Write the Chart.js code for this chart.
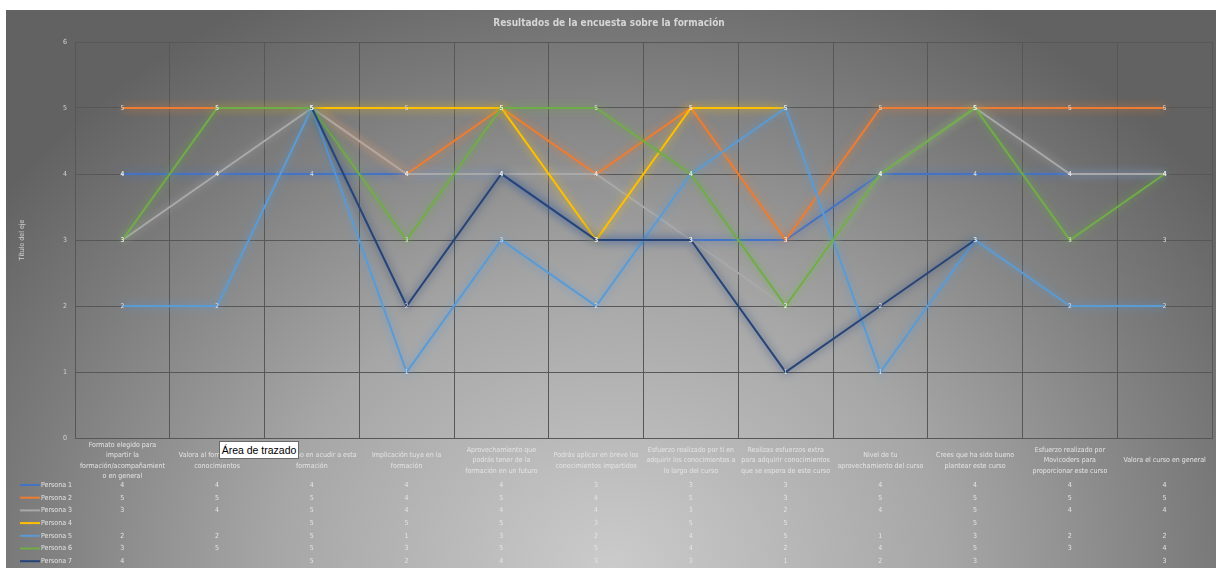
<!DOCTYPE html>
<html lang="es">
<head>
<meta charset="utf-8">
<title>Resultados de la encuesta sobre la formación</title>
<script src="https://cdn.jsdelivr.net/npm/chart.js@4.4.1/dist/chart.umd.min.js"></script>
<style>
    html, body { margin: 0; padding: 0; background: #fff; }
    body { width: 1218px; height: 568px; position: relative; overflow: hidden; }
    #frame {
        position: absolute; left: 6px; top: 10px; width: 1210px; height: 558px;
        background: radial-gradient(ellipse 62% 115% at 50% 100%, #cbcbcb 0%, #a6a6a6 45%, #7a7a7a 80%, #626262 100%);
    }
    #chart { display: block; }
    #tip {
        position: absolute; left: 219px; top: 441px; width: 80px; height: 18px;
        background: #fff; border: 1px solid #6b6b6b; box-sizing: border-box;
        font: 10.5px 'Liberation Sans', Arial, sans-serif; color: #000;
        line-height: 16px; text-align: center; white-space: nowrap;
    }
</style>
</head>
<body>
<div id="frame"><canvas id="chart" width="1210" height="558"></canvas></div>
<div id="tip">Área de trazado</div>

<script>
// ===================================
// DATA
// ===================================

const categories = [
    ['Formato elegido para', 'impartir la', 'formación/acompañamient', 'o en general'],
    ['Valora al formador y sus', 'conocimientos'],
    ['Entusiasmo en acudir a esta', 'formación'],
    ['Implicación tuya en la', 'formación'],
    ['Aprovechamiento que', 'podrás tener de la', 'formación en un futuro'],
    ['Podrás aplicar en breve los', 'conocimientos impartidos'],
    ['Esfuerzo realizado por ti en', 'adquirir los conocimientos a', 'lo largo del curso'],
    ['Realizas esfuerzos extra', 'para adquirir conocimientos', 'que se espera de este curso'],
    ['Nivel de tu', 'aprovechamiento del curso'],
    ['Crees que ha sido bueno', 'plantear este curso'],
    ['Esfuerzo realizado por', 'Movicoders para', 'proporcionar este curso'],
    ['Valora el curso en general']
];

const personas = ['Persona 1', 'Persona 2', 'Persona 3', 'Persona 4', 'Persona 5', 'Persona 6', 'Persona 7'];

const persona1 = [4, 4, 4, 4, 4, 3, 3, 3, 4, 4, 4, 4];
const persona2 = [5, 5, 5, 4, 5, 4, 5, 3, 5, 5, 5, 5];
const persona3 = [3, 4, 5, 4, 4, 4, 3, 2, 4, 5, 4, 4];
const persona4 = [null, null, 5, 5, 5, 3, 5, 5, null, 5, null, null];
const persona5 = [2, 2, 5, 1, 3, 2, 4, 5, 1, 3, 2, 2];
const persona6 = [3, 5, 5, 3, 5, 5, 4, 2, 4, 5, 3, 4];
const persona7 = [4, null, 5, 2, 4, 3, 3, 1, 2, 3, null, 3];

const yTicks = [0, 1, 2, 3, 4, 5, 6];

// ===================================
// STYLE
// ===================================

const seriesColors = ['#4472C4', '#ED7D31', '#A9A9A9', '#FFC000', '#5B9BD5', '#70AD47', '#264478'];
const fontStack = "'Liberation Sans Narrow', 'DejaVu Sans Condensed', 'Liberation Sans', sans-serif";
const textColor = '#e4e4e4';
const gridColor = '#575757';

// Soft glow under every line, like the Excel effect
const glowPlugin = {
    id: 'glow',
    beforeDatasetDraw(chart, args) {
        const ds = chart.data.datasets[args.index];
        chart.ctx.save();
        chart.ctx.shadowColor = ds.borderColor;
        chart.ctx.shadowBlur = 9;
    },
    afterDatasetDraw(chart) {
        chart.ctx.restore();
    }
};

// Value labels sitting on each point
const pointLabels = {
    id: 'pointLabels',
    afterDatasetsDraw(chart) {
        const ctx = chart.ctx;
        ctx.save();
        ctx.font = '6.5px ' + fontStack;
        ctx.fillStyle = '#e2e2e2';
        ctx.textAlign = 'center';
        ctx.textBaseline = 'middle';
        chart.data.datasets.forEach((ds, d) => {
            const meta = chart.getDatasetMeta(d);
            meta.data.forEach((pt, i) => {
                if (ds.data[i] == null) return;
                ctx.fillText(ds.data[i], pt.x, pt.y);
            });
        });
        ctx.restore();
    }
};

// Excel-style data table under the plot
const dataTable = {
    id: 'dataTable',
    afterDraw(chart) {
        const ctx = chart.ctx;
        const xs = chart.scales.x;
        const headerMid = 450.5, lineH = 10.4;
        const firstRow = 475, rowH = 12.7;

        ctx.save();
        ctx.fillStyle = textColor;
        ctx.textBaseline = 'middle';
        ctx.textAlign = 'center';
        ctx.font = '7px ' + fontStack;

        categories.forEach((lines, i) => {
            const cx = xs.getPixelForValue(i);
            const top = headerMid - (lines.length - 1) * lineH / 2;
            lines.forEach((t, j) => ctx.fillText(t, cx, top + j * lineH));
        });

        chart.data.datasets.forEach((ds, r) => {
            const y = firstRow + r * rowH;
            ctx.strokeStyle = ds.borderColor;
            ctx.lineWidth = 2;
            ctx.beginPath();
            ctx.moveTo(14, y);
            ctx.lineTo(34, y);
            ctx.stroke();

            ctx.textAlign = 'left';
            ctx.fillText(ds.label, 35, y);
            ctx.textAlign = 'center';
            ds.data.forEach((v, i) => {
                if (v == null) return;
                ctx.fillText(v, xs.getPixelForValue(i), y);
            });
        });
        ctx.restore();
    }
};

// ===================================
// CHART
// ===================================

const seriesData = [persona1, persona2, persona3, persona4, persona5, persona6, persona7];

new Chart(document.getElementById('chart').getContext('2d'), {
    type: 'line',
    data: {
        labels: categories,
        datasets: personas.map((name, i) => ({
            label: name,
            data: seriesData[i],
            borderColor: seriesColors[i],
            backgroundColor: seriesColors[i],
            borderWidth: 2,
            pointRadius: 0,
            tension: 0,
            spanGaps: false,
            order: personas.length - i
        }))
    },
    options: {
        responsive: false,
        animation: false,
        layout: { padding: { left: 0, right: 4, top: 0, bottom: 0 } },
        plugins: {
            legend: { display: false },
            tooltip: { enabled: false },
            title: {
                display: true,
                text: 'Resultados de la encuesta sobre la formación',
                color: '#d6d6d6',
                font: { family: fontStack, size: 10, weight: 'bold' },
                padding: { top: 7, bottom: 13 }
            }
        },
        scales: {
            x: {
                type: 'category',
                offset: true,
                grid: { offset: true, color: gridColor, lineWidth: 1, drawTicks: false },
                border: { color: gridColor },
                ticks: { display: false },
                afterFit(scale) { scale.height = 130; }
            },
            y: {
                min: yTicks[0],
                max: yTicks[yTicks.length - 1],
                grid: { color: gridColor, lineWidth: 1, drawTicks: false },
                border: { color: gridColor },
                ticks: {
                    stepSize: 1,
                    color: '#d0d0d0',
                    padding: 8,
                    font: { family: fontStack, size: 7 }
                },
                title: {
                    display: true,
                    text: 'Título del eje',
                    color: '#d0d0d0',
                    font: { family: fontStack, size: 7 },
                    padding: { top: 12, bottom: 0 }
                },
                afterFit(scale) { scale.width = 69; }
            }
        }
    },
    plugins: [glowPlugin, pointLabels, dataTable]
});
</script>
</body>
</html>
